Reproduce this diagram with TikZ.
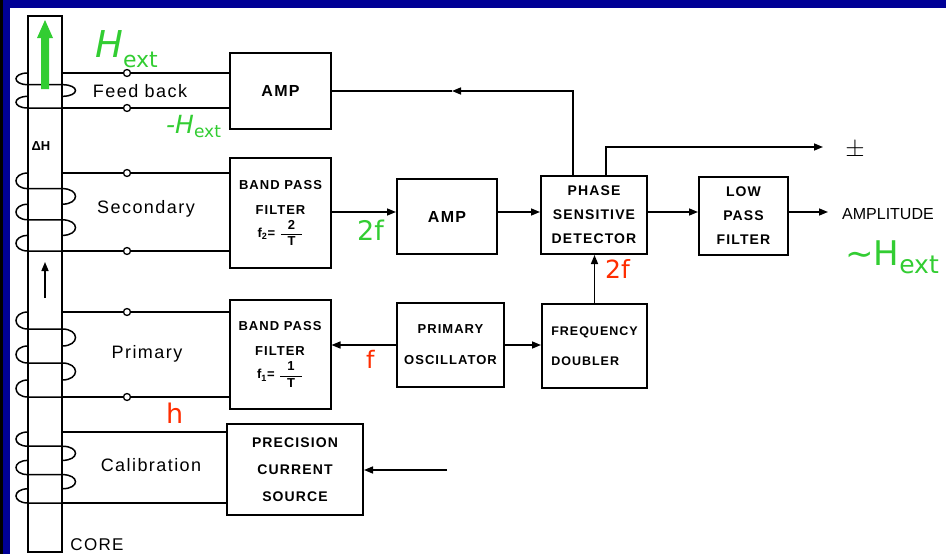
\documentclass[tikz,border=0pt]{standalone}
\usepackage{amsmath}
\usepackage{fontspec}
\setmainfont{Liberation Sans}
\newfontfamily\stencil{Liberation Sans}[LetterSpace=8]
\newfontfamily\handfont{DejaVu Sans}
\usetikzlibrary{arrows.meta}

\definecolor{slideblue}{RGB}{0,0,150}
\definecolor{notegreen}{RGB}{50,205,50}
\definecolor{notered}{RGB}{255,45,0}

\tikzset{
  wire/.style={line width=1.5pt},
  sig/.style={wire, -{Triangle[length=9pt,width=7pt]}},
  blk/.style={draw, line width=2pt, align=center, inner sep=2pt,
    font=\stencil\bfseries\fontsize{14}{24}\selectfont},
  tap/.style={circle, draw, fill=white, line width=1.3pt, minimum size=7pt, inner sep=0pt},
  coillabel/.style={inner sep=0pt, font=\stencil\fontsize{18}{18}\selectfont},
  greennote/.style={text=notegreen, inner sep=0pt, anchor=base west, font=\handfont\fontsize{27}{27}\selectfont},
  rednote/.style={text=notered, inner sep=0pt, anchor=base west, font=\handfont\fontsize{25}{25}\selectfont},
}

% one coil round the core: top, bottom, number of half turns
\newcommand{\drawcoil}[3]{%
  \pgfmathsetmacro{\seg}{(#2-#1)/#3}
  \foreach \i in {1,...,#3}{
    \pgfmathsetmacro{\ya}{#1+(\i-1)*\seg}
    \pgfmathsetmacro{\yb}{#1+\i*\seg}
    \ifodd\i
      \draw[wire] (28,\ya) .. controls (12,\ya) and (12,\yb) .. (28,\yb) -- (62,\yb);
    \else
      \draw[wire] (62,\ya) .. controls (80,\ya) and (80,\yb) .. (62,\yb);
    \fi
  }%
}

\begin{document}
\begin{tikzpicture}[x=1pt,y=-1pt]
  \useasboundingbox (0,0) rectangle (946,554);
  \fill[white] (0,0) rectangle (946,554);
  \fill[slideblue] (0,0) rectangle (946,8);
  \fill[slideblue] (0,0) rectangle (10,554);
  \fill[black] (0,0) rectangle (3,554);

  % core and coils
  \node[draw, wire, minimum width=34pt, minimum height=536pt, inner sep=0pt] (core) at (45,284) {};
  \drawcoil{73}{108}{3}
  \drawcoil{173}{251}{5}
  \drawcoil{312}{397}{5}
  \drawcoil{432}{503}{5}
  \fill[notegreen] (41,89) -- (41,38) -- (37,38) -- (45,20) -- (53,38) -- (49,38) -- (49,89) -- cycle;
  \coordinate (dhtail) at (45,298);
  \coordinate (dhtip) at (45,262);
  \draw[sig] (dhtail) -- (dhtip);
  \node[inner sep=0pt, font=\bfseries\fontsize{13}{13}\selectfont] (dh) at (41,146) {ΔH};
  \node[coillabel, font=\stencil\fontsize{17}{17}\selectfont] (corelbl) at (97,545) {CORE};

  % blocks
  \node[blk, minimum width=101pt, minimum height=76pt, font=\stencil\bfseries\fontsize{16}{16}\selectfont] (amp1) at (280.5,91) {AMP};
  \node[blk, minimum width=101pt, minimum height=110pt, font=\stencil\bfseries\fontsize{13}{25}\selectfont] (bpf2) at (280.5,213)
    {BAND PASS\\FILTER\\[-2pt] f\textsubscript{2}= $\dfrac{\hspace{7pt}\text{2}\hspace{7pt}}{\text{T}}$};
  \node[blk, minimum width=100pt, minimum height=75pt, font=\stencil\bfseries\fontsize{16}{16}\selectfont] (amp2) at (447,216.5) {AMP};
  \node[blk, minimum width=106pt, minimum height=78pt] (psd) at (594,215) {PHASE\\SENSITIVE\\DETECTOR};
  \node[blk, minimum width=89pt, minimum height=78pt] (lpf) at (743.5,216) {LOW\\PASS\\FILTER};
  \node[blk, minimum width=101pt, minimum height=109pt, font=\stencil\bfseries\fontsize{13}{25}\selectfont] (bpf1) at (280,354.5)
    {BAND PASS\\FILTER\\[-2pt] f\textsubscript{1}= $\dfrac{\hspace{7pt}\text{1}\hspace{7pt}}{\text{T}}$};
  \node[blk, minimum width=107pt, minimum height=84pt, font=\stencil\bfseries\fontsize{13}{31}\selectfont] (osc) at (450.5,345) {PRIMARY\\OSCILLATOR};
  \node[blk, minimum width=105pt, minimum height=84pt, align=left, font=\stencil\bfseries\fontsize{12.5}{30}\selectfont] (fd) at (594.5,346) {FREQUENCY\\DOUBLER};
  \node[blk, minimum width=136pt, minimum height=91pt, font=\stencil\bfseries\fontsize{14}{27}\selectfont] (pcs) at (295,469.5) {PRECISION\\CURRENT\\SOURCE};

  % pick-up points
  \node[tap] (fbA) at (127,73) {};
  \node[tap] (fbB) at (127,108) {};
  \node[tap] (scA) at (127,173) {};
  \node[tap] (scB) at (127,251) {};
  \node[tap] (prA) at (127,312) {};
  \node[tap] (prB) at (127,397) {};
  \coordinate (caA) at (62,432);
  \coordinate (caB) at (62,503);

  \draw[wire] (core.east |- fbA) -- (fbA) -- (fbA -| amp1.west);
  \draw[wire] (core.east |- fbB) -- (fbB) -- (fbB -| amp1.west);
  \draw[wire] (core.east |- scA) -- (scA) -- (scA -| bpf2.west);
  \draw[wire] (core.east |- scB) -- (scB) -- (scB -| bpf2.west);
  \draw[wire] (core.east |- prA) -- (prA) -- (prA -| bpf1.west);
  \draw[wire] (core.east |- prB) -- (prB) -- (prB -| bpf1.west);
  \draw[wire] (caA) -- (caA -| pcs.west);
  \draw[wire] (caB) -- (caB -| pcs.west);

  \node[coillabel] (fblbl) at (140,91) {Feed back};
  \node[coillabel] (sclbl) at (146,209) {Secondary};
  \node[coillabel] (prlbl) at (147,354) {Primary};
  \node[coillabel] (calbl) at (151,465) {Calibration};

  % signal paths
  \coordinate (row) at (0,212);
  \draw[sig] (bpf2.east |- row) -- (amp2.west |- row);
  \draw[sig] (amp2.east |- row) -- (psd.west |- row);
  \draw[sig] (psd.east |- row) -- (lpf.west |- row);
  \node[anchor=west, inner sep=0pt, font=\fontsize{16}{16}\selectfont] (ampl) at (842,214) {AMPLITUDE};
  \draw[sig] (lpf.east |- row) -- ([xshift=-14pt]ampl.west |- row);
  \coordinate (fbarrow) at (452,91);
  \draw[sig] ([xshift=-21pt]psd.north) |- (fbarrow);
  \draw[wire] (fbarrow) -- (amp1.east);
  \coordinate (pmtip) at (823,147);
  \draw[sig] ([xshift=12pt]psd.north) |- (pmtip);
  \node[inner sep=0pt, font=\fontsize{28}{28}\selectfont] (pm) at (855,150) {$\pm$};
  \draw[sig] (fd.north) -- (fd.north |- psd.south);
  \draw[sig] (osc.west) -- (osc.west -| bpf1.east);
  \draw[sig] (osc.east) -- (osc.east -| fd.west);
  \coordinate (pcsin) at (447,470);
  \draw[sig] (pcsin) -- (pcsin -| pcs.east);

  % notes
  \node[greennote, font=\handfont\fontsize{37}{37}\selectfont] (hext) at (95,57)
    {\itshape H\raisebox{-10pt}{\upshape\fontsize{22}{22}\selectfont ext}};
  \node[greennote, font=\handfont\fontsize{25}{25}\selectfont] (mhext) at (166,133)
    {\itshape -H\raisebox{-4pt}{\upshape\fontsize{17}{17}\selectfont ext}};
  \node[greennote] (twofA) at (357,240) {2f};
  \node[greennote, font=\handfont\fontsize{34}{34}\selectfont] (simhext) at (845,265)
    {\textasciitilde H\raisebox{-8pt}{\fontsize{25}{25}\selectfont ext}};
  \node[rednote] (twofB) at (605,278) {2f};
  \node[rednote, font=\handfont\fontsize{24}{24}\selectfont] (fnote) at (366,368) {f};
  \node[rednote, font=\handfont\fontsize{27}{27}\selectfont] (hnote) at (166,423) {h};
\end{tikzpicture}
\end{document}
